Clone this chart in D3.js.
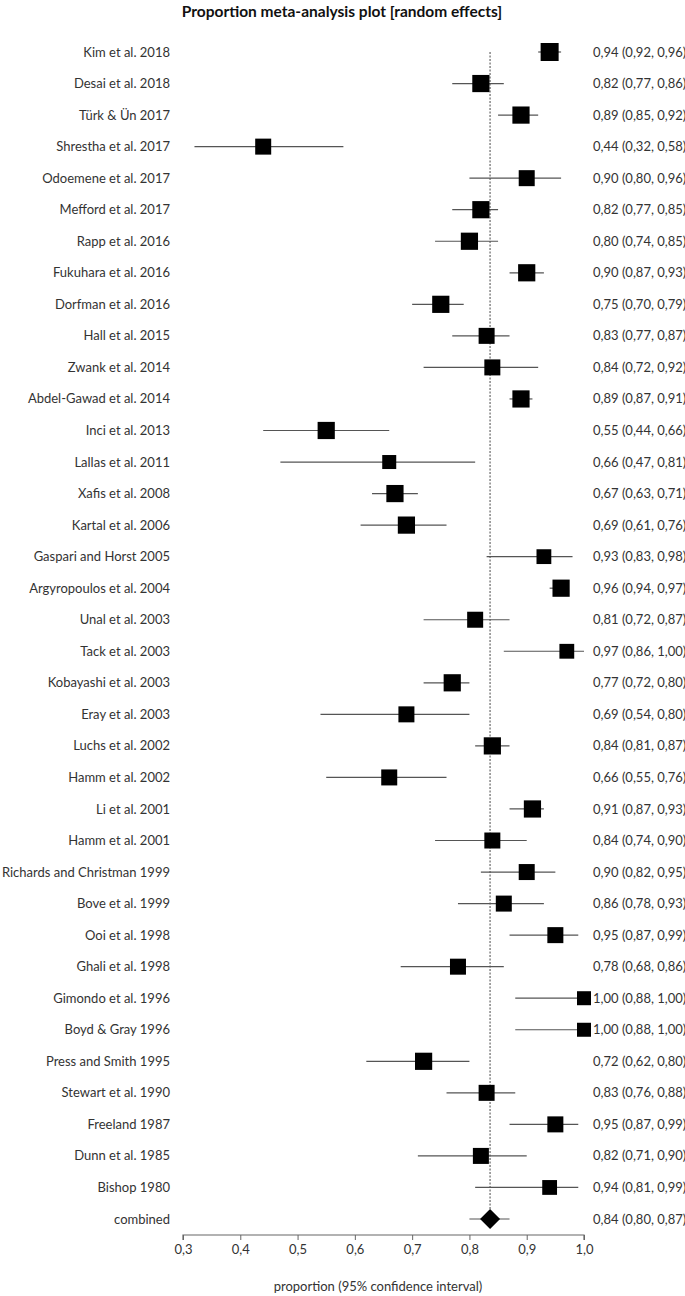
<!DOCTYPE html>
<html>
<head>
<meta charset="utf-8">
<script src="https://cdn.jsdelivr.net/npm/d3@7"></script>
<style>
  body { margin: 0; background: #fff; }
  svg text { font-family: Lato, "Open Sans", sans-serif; }
</style>
</head>
<body>
<div id="plot-container"></div>
<script>
'use strict';
// studies, top to bottom
const studies = ["Kim et al. 2018", "Desai et al. 2018", "Türk & Ün 2017", "Shrestha et al. 2017",
  "Odoemene et al. 2017", "Mefford et al. 2017", "Rapp et al. 2016", "Fukuhara et al. 2016",
  "Dorfman et al. 2016", "Hall et al. 2015", "Zwank et al. 2014", "Abdel-Gawad et al. 2014",
  "Inci et al. 2013", "Lallas et al. 2011", "Xafis et al. 2008", "Kartal et al. 2006",
  "Gaspari and Horst 2005", "Argyropoulos et al. 2004", "Unal et al. 2003", "Tack et al. 2003",
  "Kobayashi et al. 2003", "Eray et al. 2003", "Luchs et al. 2002", "Hamm et al. 2002",
  "Li et al. 2001", "Hamm et al. 2001", "Richards and Christman 1999", "Bove et al. 1999",
  "Ooi et al. 1998", "Ghali et al. 1998", "Gimondo et al. 1996", "Boyd & Gray 1996",
  "Press and Smith 1995", "Stewart et al. 1990", "Freeland 1987", "Dunn et al. 1985", "Bishop 1980"];
const estimate = [0.94, 0.82, 0.89, 0.44, 0.90, 0.82, 0.80, 0.90, 0.75, 0.83, 0.84, 0.89, 0.55, 0.66,
  0.67, 0.69, 0.93, 0.96, 0.81, 0.97, 0.77, 0.69, 0.84, 0.66, 0.91, 0.84, 0.90, 0.86, 0.95, 0.78,
  1.00, 1.00, 0.72, 0.83, 0.95, 0.82, 0.94];
const lower = [0.92, 0.77, 0.85, 0.32, 0.80, 0.77, 0.74, 0.87, 0.70, 0.77, 0.72, 0.87, 0.44, 0.47,
  0.63, 0.61, 0.83, 0.94, 0.72, 0.86, 0.72, 0.54, 0.81, 0.55, 0.87, 0.74, 0.82, 0.78, 0.87, 0.68,
  0.88, 0.88, 0.62, 0.76, 0.87, 0.71, 0.81];
const upper = [0.96, 0.86, 0.92, 0.58, 0.96, 0.85, 0.85, 0.93, 0.79, 0.87, 0.92, 0.91, 0.66, 0.81,
  0.71, 0.76, 0.98, 0.97, 0.87, 1.00, 0.80, 0.80, 0.87, 0.76, 0.93, 0.90, 0.95, 0.93, 0.99, 0.86,
  1.00, 1.00, 0.80, 0.88, 0.99, 0.90, 0.99];
// relative study weights (box size)
const weight = [3.0, 2.8, 2.8, 2.5, 2.5, 2.8, 2.8, 2.8, 2.8, 2.5, 2.5, 2.8, 2.8, 2.0, 2.8, 2.8,
  2.2, 2.8, 2.5, 2.2, 2.8, 2.5, 2.8, 2.5, 2.8, 2.5, 2.5, 2.5, 2.5, 2.5, 2.0, 2.0, 2.8, 2.5, 2.5,
  2.5, 2.2];
const pooled = {label: "combined", est: 0.836, lo: 0.80, hi: 0.87};
const xTicks = [0.3, 0.4, 0.5, 0.6, 0.7, 0.8, 0.9, 1.0];

(function () {
  const width = 685, height = 1296;
  const svg = d3.select("#plot-container").append("svg")
    .attr("width", width).attr("height", height)
    .attr("viewBox", [0, 0, width, height]);

  const x = d3.scaleLinear().domain([0.3, 1.0]).range([183, 584]);
  const rows = studies.concat([pooled.label]);
  const y = d3.scalePoint().domain(d3.range(rows.length)).range([52, 1219]);
  const boxSize = d3.scaleLinear().domain([2.0, 3.0]).range([14, 18]);
  const fmt = v => d3.format(".2f")(v).replace(".", ",");
  const tickFmt = v => d3.format(".1f")(v).replace(".", ",");

  svg.append("text")
    .attr("x", 342).attr("y", 17)
    .attr("text-anchor", "middle")
    .style("font-size", "15.5px").style("font-weight", "bold").style("fill", "#111")
    .text("Proportion meta-analysis plot [random effects]");

  // dashed reference line at pooled estimate
  svg.append("line")
    .attr("x1", x(pooled.est)).attr("x2", x(pooled.est))
    .attr("y1", y(0)).attr("y2", y(rows.length - 1) + 9)
    .attr("stroke", "#333").attr("stroke-width", 0.9)
    .attr("stroke-dasharray", "2,1.5");

  const data = studies.map((s, i) => ({name: s, est: estimate[i], lo: lower[i], hi: upper[i], w: weight[i], i: i}));

  const g = svg.append("g");
  g.selectAll(".ci").data(data).join("line")
    .attr("x1", d => x(d.lo)).attr("x2", d => x(d.hi))
    .attr("y1", d => y(d.i)).attr("y2", d => y(d.i))
    .attr("stroke", "#555").attr("stroke-width", 1.2);

  g.selectAll(".box").data(data).join("rect")
    .attr("x", d => x(d.est) - boxSize(d.w) / 2)
    .attr("y", d => y(d.i) - boxSize(d.w) / 2)
    .attr("width", d => boxSize(d.w)).attr("height", d => boxSize(d.w))
    .attr("fill", "#000");

  // pooled diamond
  const pi = rows.length - 1;
  svg.append("line")
    .attr("x1", x(pooled.lo)).attr("x2", x(pooled.hi))
    .attr("y1", y(pi)).attr("y2", y(pi))
    .attr("stroke", "#555").attr("stroke-width", 1.2);
  svg.append("path")
    .attr("d", d3.symbol(d3.symbolSquare, 200)())
    .attr("transform", `translate(${x(pooled.est)},${y(pi)}) rotate(45)`)
    .attr("fill", "#000");

  // row labels
  const all = data.concat([{name: pooled.label, est: pooled.est, lo: pooled.lo, hi: pooled.hi, i: pi}]);
  svg.selectAll(".lab").data(all).join("text")
    .attr("x", 170).attr("y", d => y(d.i)).attr("dy", "0.35em")
    .attr("text-anchor", "end")
    .style("font-size", "13px").style("fill", "#333")
    .text(d => d.name);

  svg.selectAll(".val").data(all).join("text")
    .attr("x", 593).attr("y", d => y(d.i)).attr("dy", "0.35em")
    .style("font-size", "13px").style("fill", "#333")
    .text(d => `${fmt(d.est)} (${fmt(d.lo)}, ${fmt(d.hi)})`);

  // x axis
  const axis = svg.append("g")
    .attr("transform", "translate(0,1235)")
    .call(d3.axisBottom(x).tickValues(xTicks).tickSize(5).tickPadding(5).tickFormat(tickFmt));
  axis.select(".domain").attr("stroke", "#666").attr("stroke-width", 1.2).attr("d", `M${x(0.3)},5V0H${x(1.0)}V5`);
  axis.selectAll(".tick line").attr("stroke", "#666");
  axis.selectAll(".tick text").style("font-size", "13px").style("fill", "#333")
    .style("font-family", "Lato, sans-serif");

  svg.append("text")
    .attr("x", 378).attr("y", 1291)
    .attr("text-anchor", "middle")
    .style("font-size", "13px").style("fill", "#333")
    .text("proportion (95% confidence interval)");
})();
</script>
</body>
</html>
